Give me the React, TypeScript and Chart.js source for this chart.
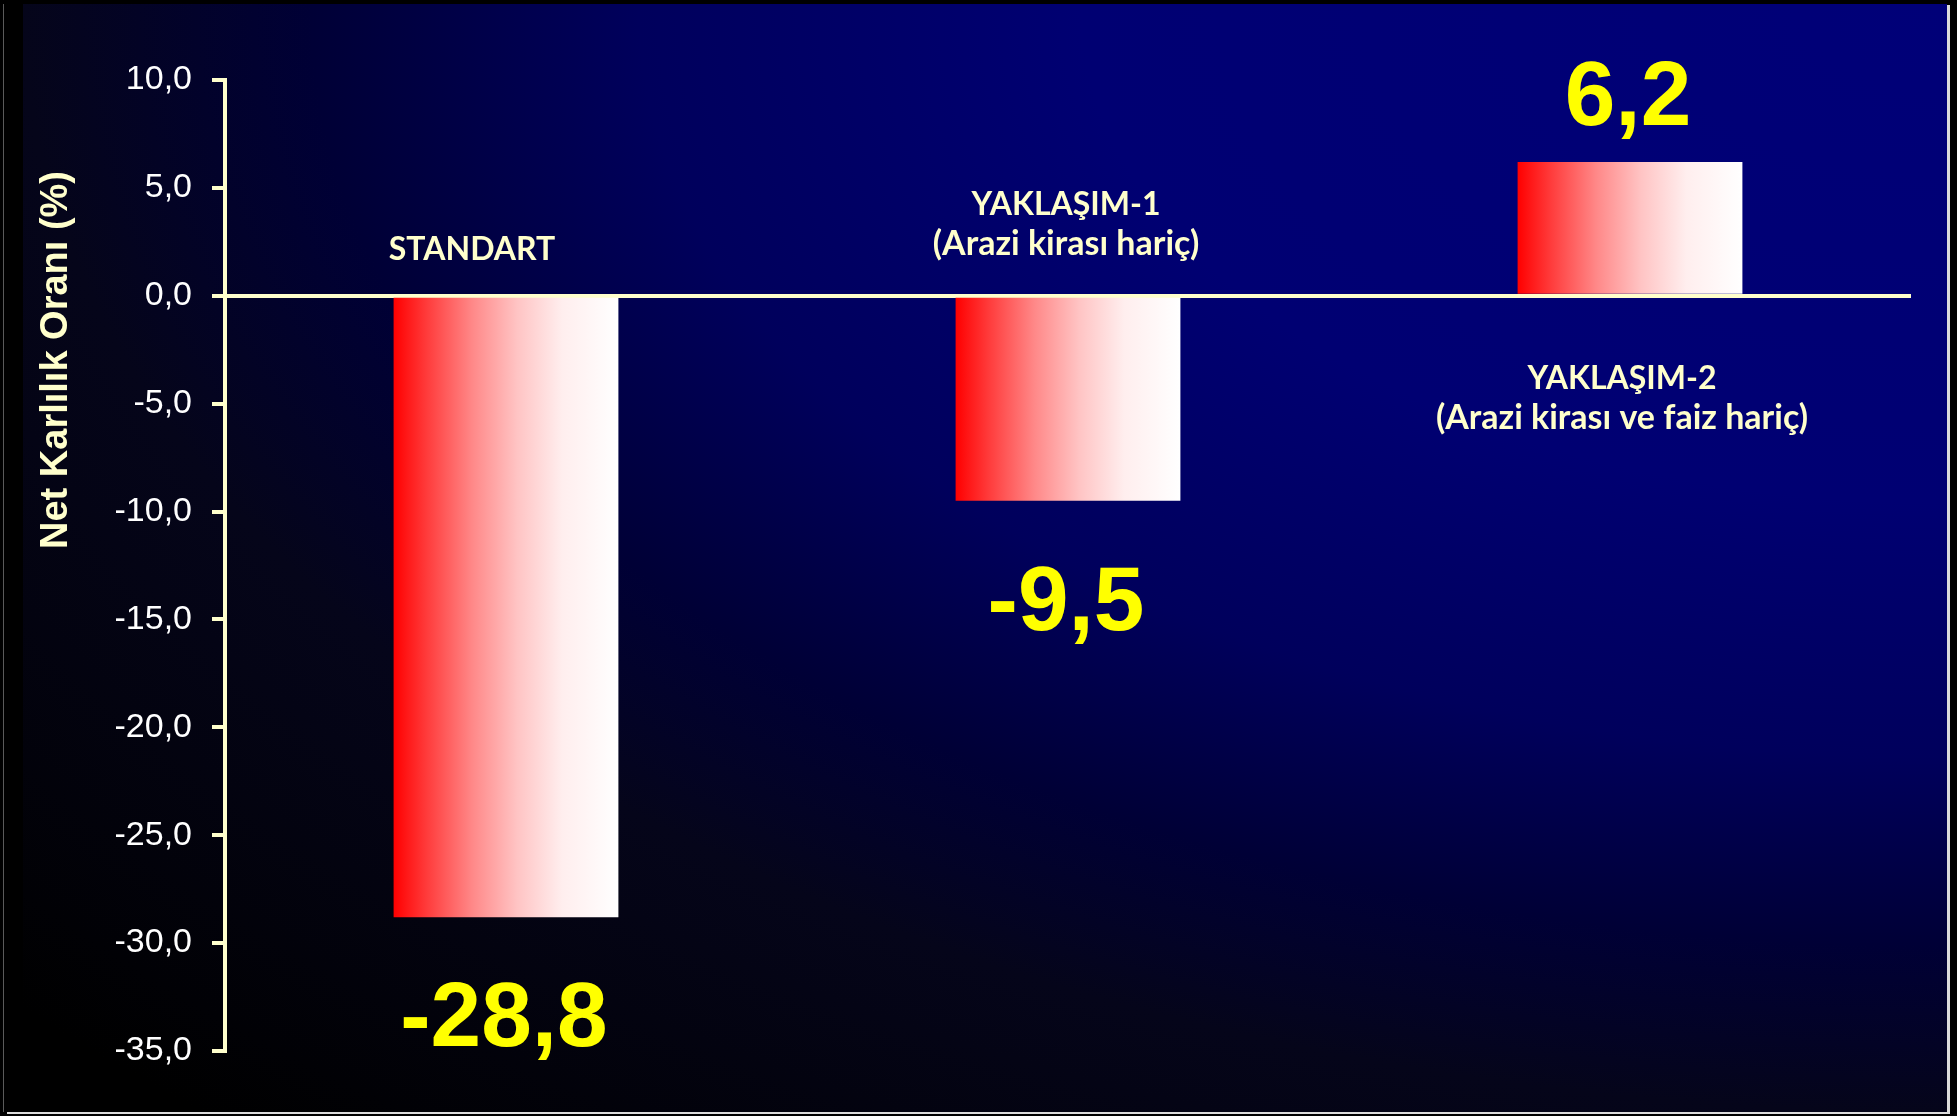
import React, { useEffect, useRef } from 'react';
import { Chart, registerables } from 'chart.js';

Chart.register(...registerables);

// ---- data ----
const categories = ['STANDART', 'YAKLAŞIM-1', 'YAKLAŞIM-2'];
const categoryTitles = [
  ['STANDART'],
  ['YAKLAŞIM-1', '(Arazi kirası hariç)'],
  ['YAKLAŞIM-2', '(Arazi kirası ve faiz hariç)'],
];
const netProfitRate = [-28.8, -9.5, 6.2];
const valueLabels = ['-28,8', '-9,5', '6,2'];
const tickValues = [10, 5, 0, -5, -10, -15, -20, -25, -30, -35];
const tickLabels = ['10,0', '5,0', '0,0', '-5,0', '-10,0', '-15,0', '-20,0', '-25,0', '-30,0', '-35,0'];
const yAxisTitle = 'Net Karlılık Oranı (%)';

const CREAM = '#ffffcc';

const overlayPlugin = {
  id: 'overlay',
  afterDraw(chart: any) {
    const ctx = chart.ctx;
    const meta = chart.getDatasetMeta(0);
    const ys = chart.scales.y;
    const zeroY = ys.getPixelForValue(0);
    ctx.save();

    // value labels
    ctx.fillStyle = '#ffff00';
    ctx.font = 'bold 91px "Liberation Sans", Arial, sans-serif';
    ctx.textAlign = 'center';
    ctx.textBaseline = 'alphabetic';
    meta.data.forEach((bar: any, i: number) => {
      const v = netProfitRate[i];
      const by = v >= 0 ? bar.y - 37 : bar.y + 129;
      ctx.fillText(valueLabels[i], bar.x - 2, by);
    });

    // category titles
    const titlePos = [
      { dx: -34, dy: -36 },
      { dx: -2, dy: -81 },
      { dx: -8, dy: 93 },
    ];
    ctx.fillStyle = CREAM;
    ctx.textAlign = 'center';
    meta.data.forEach((bar: any, i: number) => {
      const p = titlePos[i];
      categoryTitles[i].forEach((line, j) => {
        ctx.font = j === 0 ? 'bold 32px Lato, "Open Sans", sans-serif' : 'bold 34px Lato, "Open Sans", sans-serif';
        ctx.fillText(line, bar.x + p.dx, zeroY + p.dy + j * 40);
      });
    });

    // y axis title
    ctx.translate(57, 360);
    ctx.rotate(-Math.PI / 2);
    ctx.font = 'bold 38px "Liberation Sans", Arial, sans-serif';
    ctx.textAlign = 'center';
    ctx.textBaseline = 'middle';
    ctx.fillStyle = CREAM;
    ctx.fillText(yAxisTitle, 0, 0);
    ctx.restore();
  },
};

export default function App() {
  const canvasRef = useRef<HTMLCanvasElement | null>(null);

  useEffect(() => {
    const canvas = canvasRef.current;
    if (!canvas) return;
    const chart = new Chart(canvas, {
      type: 'bar',
      data: {
        labels: categories,
        datasets: [
          {
            data: netProfitRate,
            borderWidth: 0,
            backgroundColor: (c: any) => {
              const ch = c.chart;
              const xs = ch.scales && ch.scales.x;
              if (!xs || c.dataIndex == null || !xs.width) return '#ff6060';
              const cx = xs.getPixelForValue(c.dataIndex);
              const w = (xs.width / categories.length) * 0.4;
              const g = ch.ctx.createLinearGradient(cx - w / 2, 0, cx + w / 2, 0);
              g.addColorStop(0, '#ff0000');
              g.addColorStop(0.15, '#ff3c3c');
              g.addColorStop(0.35, '#ff8888');
              g.addColorStop(0.55, '#ffc4c4');
              g.addColorStop(0.75, '#ffeeee');
              g.addColorStop(1, '#ffffff');
              return g;
            },
            categoryPercentage: 1,
            barPercentage: 0.4,
          },
        ],
      },
      options: {
        responsive: false,
        animation: false,
        devicePixelRatio: 1,
        layout: { padding: { left: 25, top: 80, right: 46, bottom: 65 } },
        plugins: {
          legend: { display: false },
          tooltip: { enabled: false },
        },
        scales: {
          x: { display: false },
          y: {
            z: 1,
            min: -35,
            max: 10,
            afterFit: (s: any) => {
              s.width = 200;
            },
            ticks: {
              stepSize: 5,
              padding: 20,
              color: '#ffffff',
              font: { family: '"Liberation Sans", Arial, sans-serif', size: 34 },
              callback: (v: any) => {
                const idx = tickValues.indexOf(Number(v));
                return idx >= 0 ? tickLabels[idx] : '';
              },
            },
            grid: {
              drawOnChartArea: true,
              drawTicks: true,
              tickLength: 13,
              tickColor: CREAM,
              tickWidth: 4,
              lineWidth: 4,
              color: (c: any) => (c.tick && c.tick.value === 0 ? CREAM : 'rgba(0,0,0,0)'),
            },
            border: { display: true, color: CREAM, width: 4 },
          },
        },
      },
      plugins: [overlayPlugin],
    } as any);
    return () => chart.destroy();
  }, []);

  return (
    <div style={{ position: 'fixed', left: 0, top: 0, width: 1957, height: 1116, background: '#000', overflow: 'hidden' }}>
      <div
        style={{
          position: 'absolute',
          left: 23,
          top: 4,
          width: 1924,
          height: 1108,
          background:
            'radial-gradient(ellipse 100% 100% at 100% 0%, #000078 0%, #000072 45%, #00005c 68%, #000036 85%, #05051a 100%, #000000 135%)',
        }}
      />
      <div style={{ position: 'absolute', left: 3, top: 4, width: 1, height: 1108, background: '#5a5a5a' }} />
      <div style={{ position: 'absolute', left: 1947, top: 5, width: 3, height: 1109, background: '#dcdcdc' }} />
      <div style={{ position: 'absolute', left: 7, top: 1112, width: 1943, height: 2, background: '#dcdcdc' }} />
      <canvas
        ref={canvasRef}
        width={1957}
        height={1116}
        style={{ position: 'absolute', left: 0, top: 0, width: 1957, height: 1116, display: 'block' }}
      />
    </div>
  );
}
